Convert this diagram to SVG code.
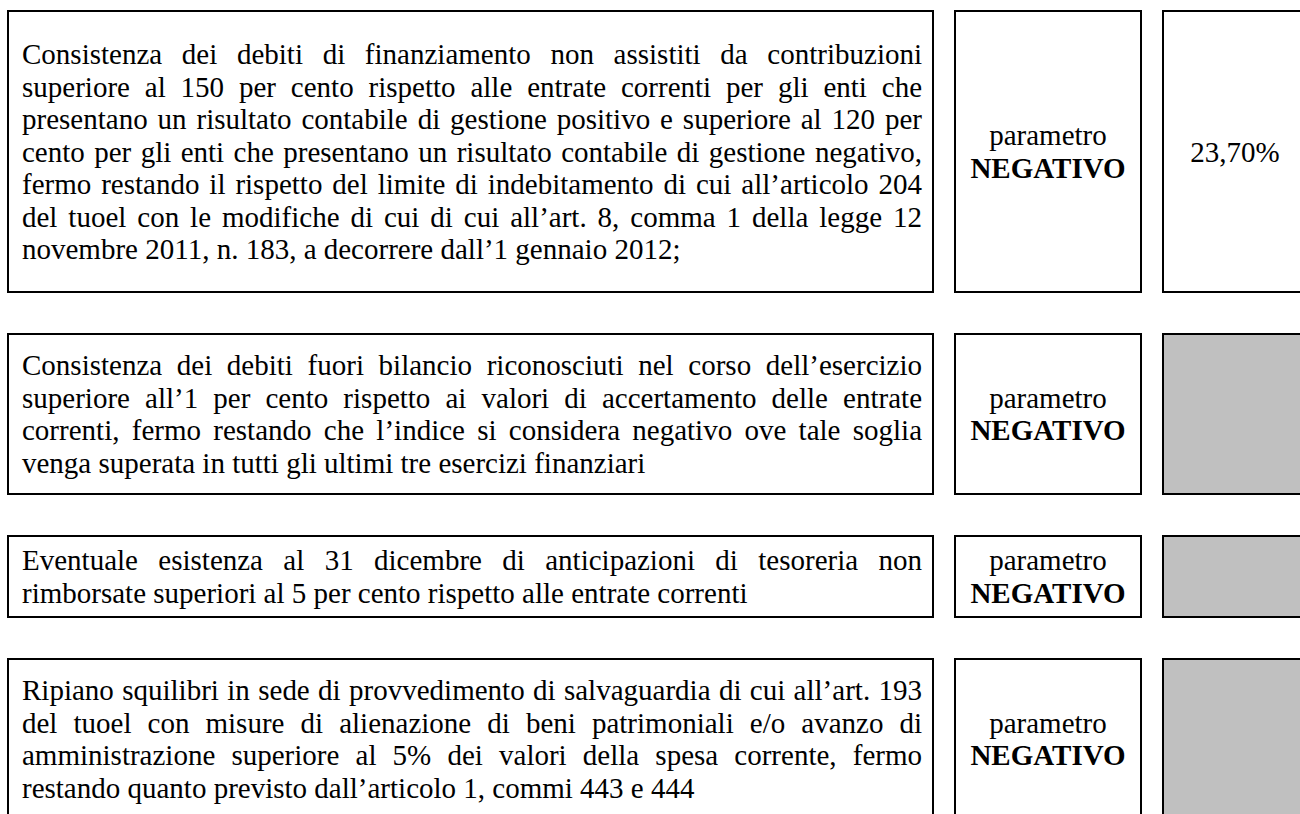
<svg xmlns="http://www.w3.org/2000/svg" width="1300" height="814" viewBox="0 0 1300 814" font-family="Liberation Serif, Times New Roman, Times, serif">
<style>
  .box { fill: #ffffff; stroke: #000000; stroke-width: 2; }
  .grey { fill: #c0c0c0; stroke: #000000; stroke-width: 2; }
  text { font-family: 'Liberation Serif', 'Times New Roman', Times, serif; font-size: 29px; fill: #000000; }
  .c { text-anchor: middle; }
  .b { font-weight: bold; }
</style>
<rect x="0" y="0" width="1300" height="814" fill="#ffffff"/>

<g id="row1-text">
  <rect class="box" x="8" y="11" width="925" height="281"/>
  <text x="22" y="64" word-spacing="12.41" textLength="900" lengthAdjust="spacing">Consistenza dei debiti di finanziamento non assistiti da contribuzioni</text>
  <text x="22" y="96.5" word-spacing="7.62" textLength="900" lengthAdjust="spacing">superiore al 150 per cento rispetto alle entrate correnti per gli enti che</text>
  <text x="22" y="129" word-spacing="2.67" textLength="900" lengthAdjust="spacing">presentano un risultato contabile di gestione positivo e superiore al 120 per</text>
  <text x="22" y="161.5" word-spacing="2.15" textLength="900" lengthAdjust="spacing">cento per gli enti che presentano un risultato contabile di gestione negativo,</text>
  <text x="22" y="194" word-spacing="2.66" textLength="900" lengthAdjust="spacing">fermo restando il rispetto del limite di indebitamento di cui all’articolo 204</text>
  <text x="22" y="226.5" word-spacing="3.67" textLength="900" lengthAdjust="spacing">del tuoel con le modifiche di cui di cui all’art. 8, comma 1 della legge 12</text>
  <text x="22" y="259">novembre 2011, n. 183, a decorrere dall’1 gennaio 2012;</text>
</g>
<g id="row1-param">
  <rect class="box" x="955" y="11" width="186" height="281"/>
  <text class="c" x="1048" y="145.25">parametro</text>
  <text class="c b" x="1048" y="177.75">NEGATIVO</text>
</g>
<g id="row1-value">
  <rect class="box" x="1163" y="11" width="150" height="281"/>
  <text class="c" x="1235" y="161.5">23,70%</text>
</g>

<g id="row2-text">
  <rect class="box" x="8" y="334" width="925" height="160"/>
  <text x="22" y="375.25" word-spacing="7.39" textLength="900" lengthAdjust="spacing">Consistenza dei debiti fuori bilancio riconosciuti nel corso dell’esercizio</text>
  <text x="22" y="407.75" word-spacing="7.85" textLength="900" lengthAdjust="spacing">superiore all’1 per cento rispetto ai valori di accertamento delle entrate</text>
  <text x="22" y="440.25" word-spacing="5.03" textLength="900" lengthAdjust="spacing">correnti, fermo restando che l’indice si considera negativo ove tale soglia</text>
  <text x="22" y="472.75">venga superata in tutti gli ultimi tre esercizi finanziari</text>
</g>
<g id="row2-param">
  <rect class="box" x="955" y="334" width="186" height="160"/>
  <text class="c" x="1048" y="407.75">parametro</text>
  <text class="c b" x="1048" y="440.25">NEGATIVO</text>
</g>
<g id="row2-value">
  <rect class="grey" x="1163" y="334" width="150" height="160"/>
</g>

<g id="row3-text">
  <rect class="box" x="8" y="536" width="925" height="81"/>
  <text x="22" y="570.25" word-spacing="13.11" textLength="900" lengthAdjust="spacing">Eventuale esistenza al 31 dicembre di anticipazioni di tesoreria non</text>
  <text x="22" y="602.75">rimborsate superiori al 5 per cento rispetto alle entrate correnti</text>
</g>
<g id="row3-param">
  <rect class="box" x="955" y="536" width="186" height="81"/>
  <text class="c" x="1048" y="570.25">parametro</text>
  <text class="c b" x="1048" y="602.75">NEGATIVO</text>
</g>
<g id="row3-value">
  <rect class="grey" x="1163" y="536" width="150" height="81"/>
</g>

<g id="row4-text">
  <rect class="box" x="8" y="659" width="925" height="160"/>
  <text x="22" y="700.25" word-spacing="1.12" textLength="900" lengthAdjust="spacing">Ripiano squilibri in sede di provvedimento di salvaguardia di cui all’art. 193</text>
  <text x="22" y="732.75" word-spacing="8.81" textLength="900" lengthAdjust="spacing">del tuoel con misure di alienazione di beni patrimoniali e/o avanzo di</text>
  <text x="22" y="765.25" word-spacing="8.91" textLength="900" lengthAdjust="spacing">amministrazione superiore al 5% dei valori della spesa corrente, fermo</text>
  <text x="22" y="797.75">restando quanto previsto dall’articolo 1, commi 443 e 444</text>
</g>
<g id="row4-param">
  <rect class="box" x="955" y="659" width="186" height="160"/>
  <text class="c" x="1048" y="732.75">parametro</text>
  <text class="c b" x="1048" y="765.25">NEGATIVO</text>
</g>
<g id="row4-value">
  <rect class="grey" x="1163" y="659" width="150" height="160"/>
</g>
</svg>
